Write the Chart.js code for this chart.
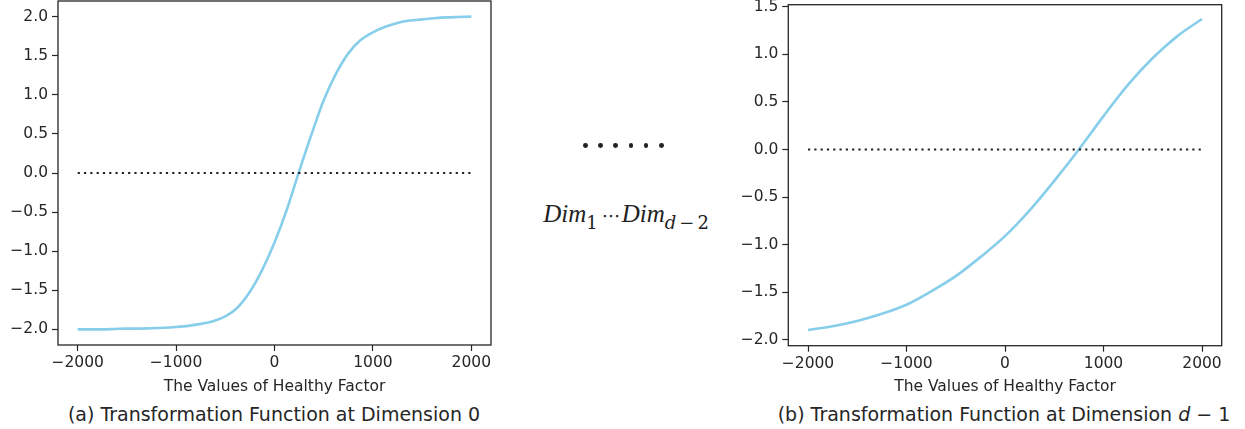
<!DOCTYPE html>
<html>
<head>
<meta charset="utf-8">
<script src="https://cdn.jsdelivr.net/npm/chart.js@4.4.1/dist/chart.umd.min.js"></script>
<style>
body{margin:0;background:#fff;}
#page{position:relative;width:1245px;height:429px;overflow:hidden;font-family:"DejaVu Sans",sans-serif;color:#262626;}
canvas{position:absolute;top:0;}
#c0{left:0;}
#c1{left:730px;}
.caption{position:absolute;top:403px;width:500px;text-align:center;font-size:19px;line-height:22px;white-space:nowrap;}
#cap0{left:24px;}
#cap1{left:754px;}
#dots{position:absolute;left:583.3px;top:143.3px;display:flex;gap:10.3px;}
#dots span{width:4.8px;height:4.8px;border-radius:50%;background:#222;}
#dims{position:absolute;left:526px;width:200px;top:201px;text-align:center;font-family:"Liberation Serif",serif;font-size:25px;line-height:25px;white-space:nowrap;color:#222;}
#dims sub{font-family:"DejaVu Serif",serif;font-size:18px;vertical-align:-7px;line-height:0;font-style:normal;}
#dims sub .op{margin:0 3px;}
#dims .dots3{font-family:"DejaVu Sans",sans-serif;font-size:19px;font-style:normal;margin:0 1px 0 4px;}
</style>
</head>
<body>
<div id="page">
  <canvas id="c0" width="500" height="398"></canvas>
  <canvas id="c1" width="500" height="398"></canvas>
  <div id="dots"><span></span><span></span><span></span><span></span><span></span><span></span></div>
  <div id="dims"><i>Dim</i><sub>1</sub><span class="dots3">&#x22EF;</span><i>Dim</i><sub><i>d</i><span class="op">&#x2212;</span>2</sub></div>
  <div class="caption" id="cap0">(a) Transformation Function at Dimension 0</div>
  <div class="caption" id="cap1">(b) Transformation Function at Dimension <i>d</i> &#x2212; 1</div>
</div>
<script>
// tick positions
const xTicks = [-2000, -1000, 0, 1000, 2000];
const dim0Ticks = [-2.0, -1.5, -1.0, -0.5, 0.0, 0.5, 1.0, 1.5, 2.0];
const dimLastTicks = [-2.0, -1.5, -1.0, -0.5, 0.0, 0.5, 1.0, 1.5];

// healthy factor -> transformed value at dimension 0
const dim0X = [-2000, -1875, -1750, -1625, -1500, -1375, -1250, -1125, -1000, -875, -750, -625, -500, -375, -250, -125,
               0, 125, 250, 375, 500, 625, 750, 875, 1000, 1125, 1250, 1375, 1500, 1625, 1750, 1875, 2000];
const dim0Y = [-2.00, -2.00, -2.00, -1.995, -1.99, -1.99, -1.985, -1.98, -1.97, -1.955, -1.93, -1.895, -1.835, -1.72, -1.52, -1.24,
               -0.89, -0.47, 0.02, 0.49, 0.93, 1.27, 1.53, 1.70, 1.80, 1.87, 1.92, 1.95, 1.965, 1.98, 1.99, 1.995, 2.00];

// healthy factor -> transformed value at dimension d-1
const dimLastX = [-2000, -1750, -1500, -1250, -1000, -750, -500, -250, 0, 250, 500, 750, 1000, 1250, 1500, 1750, 2000];
const dimLastY = [-1.895, -1.855, -1.80, -1.725, -1.63, -1.49, -1.33, -1.13, -0.91, -0.64, -0.33, 0.00, 0.35, 0.68, 0.96, 1.19, 1.37];

// dotted reference line at zero
const zeroX = [-2000, 2000];
const zeroY = [0, 0];

const INK = '#262626';
const TICK_FONT = {family: 'DejaVu Sans', size: 15.5};

function minus(s){ return String(s).replace('-', '\u2212'); }

function toPoints(xs, ys){ return xs.map((x, i) => ({x: x, y: ys[i]})); }

// full box around the plot area
const frame = {
  id: 'frame',
  afterDatasetsDraw(chart){
    const a = chart.chartArea, c = chart.ctx;
    c.save();
    c.strokeStyle = INK;
    c.lineWidth = 1.3;
    c.strokeRect(a.left, a.top, a.right - a.left, a.bottom - a.top);
    c.restore();
  }
};

function makeChart(id, xs, ys, yTicks, yMin, yMax, box){
  const canvas = document.getElementById(id);
  const W = canvas.width, H = canvas.height;
  return new Chart(canvas.getContext('2d'), {
    type: 'line',
    data: {
      datasets: [
        {
          data: toPoints(zeroX, zeroY),
          borderColor: '#222',
          borderWidth: 2.2,
          borderDash: [2.2, 4.1],
          borderCapStyle: 'butt',
          pointRadius: 0
        },
        {
          data: toPoints(xs, ys),
          borderColor: '#87CEEB',
          borderWidth: 2.6,
          cubicInterpolationMode: 'monotone',
          pointRadius: 0
        }
      ]
    },
    options: {
      responsive: false,
      animation: false,
      devicePixelRatio: 1,
      layout: {padding: {top: box.top, right: W - box.right, left: 0, bottom: 0}},
      plugins: {legend: {display: false}, tooltip: {enabled: false}},
      scales: {
        x: {
          type: 'linear',
          min: -2200,
          max: 2200,
          afterBuildTicks: s => { s.ticks = xTicks.map(v => ({value: v})); },
          afterFit: s => { s.height = H - box.bottom; s.paddingLeft = 0; s.paddingRight = 0; },
          ticks: {font: TICK_FONT, color: INK, padding: 3, maxRotation: 0, callback: v => minus(v)},
          grid: {drawOnChartArea: false, drawTicks: true, tickLength: 6, tickWidth: 1.2, tickColor: INK},
          border: {display: false},
          title: {display: true, text: 'The Values of Healthy Factor', font: TICK_FONT, color: INK, padding: {top: 0, bottom: 1.7}}
        },
        y: {
          type: 'linear',
          min: yMin,
          max: yMax,
          afterBuildTicks: s => { s.ticks = yTicks.map(v => ({value: v})); },
          afterFit: s => { s.width = box.left; s.paddingTop = 0; s.paddingBottom = 0; },
          ticks: {font: TICK_FONT, color: INK, padding: 4, callback: v => minus(v.toFixed(1))},
          grid: {drawOnChartArea: false, drawTicks: true, tickLength: 6, tickWidth: 1.2, tickColor: INK},
          border: {display: false}
        }
      }
    },
    plugins: [frame]
  });
}

makeChart('c0', dim0X, dim0Y, dim0Ticks, -2.2, 2.2, {left: 58, top: 1, right: 491, bottom: 345});
makeChart('c1', dimLastX, dimLastY, dimLastTicks, -2.06, 1.52, {left: 58.3, top: 4.7, right: 491.7, bottom: 345.7});
</script>
</body>
</html>
